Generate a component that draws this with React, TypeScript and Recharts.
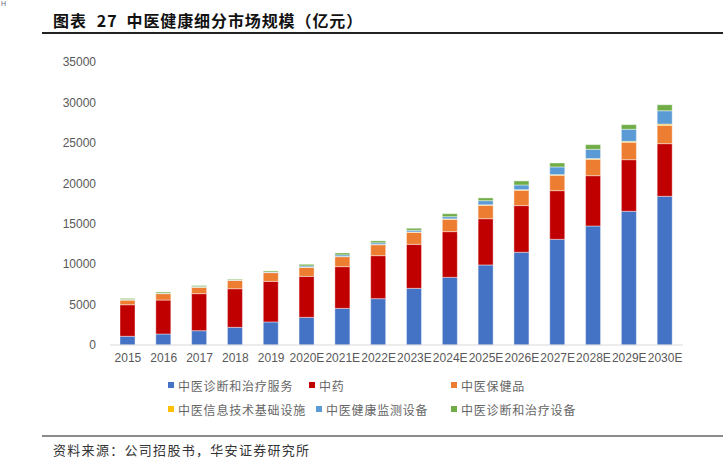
import React from "react";
import { BarChart, Bar, XAxis, YAxis } from "recharts";

const categories = ["2015","2016","2017","2018","2019","2020E","2021E","2022E","2023E","2024E","2025E","2026E","2027E","2028E","2029E","2030E"];
const services = [1080,1360,1770,2190,2850,3420,4530,5730,7010,8370,9900,11470,13070,14720,16540,18390];
const medicine = [3900,4200,4580,4770,5020,5070,5160,5320,5440,5650,5720,5770,6020,6220,6380,6510];
const healthProducts = [580,790,790,1040,1080,1110,1230,1350,1490,1530,1660,1900,1900,2020,2150,2270];
const infoInfra = [20,20,20,20,20,30,30,40,40,50,60,70,80,100,120,150];
const monitoring = [50,50,60,50,60,150,200,200,210,270,510,580,950,1140,1490,1650];
const equipment = [130,140,130,90,130,200,230,240,250,370,340,500,490,580,570,740];
const yTicks = [0,5000,10000,15000,20000,25000,30000,35000];

const seriesNames = ["中医诊断和治疗服务","中药","中医保健品","中医信息技术基础设施","中医健康监测设备","中医诊断和治疗设备"];
const seriesColors = ["#4472C4","#C00000","#ED7D31","#FFC000","#5B9BD5","#70AD47"];
const seriesKeys = ["s0","s1","s2","s3","s4","s5"];
const seriesArrays = [services, medicine, healthProducts, infoInfra, monitoring, equipment];

const data = categories.map((c, i) => {
  const row: any = { name: c };
  seriesKeys.forEach((k, j) => { row[k] = seriesArrays[j][i]; });
  return row;
});

const legendItems = [
  { idx: 0, x: 168, y: 385 },
  { idx: 1, x: 309, y: 385 },
  { idx: 2, x: 451, y: 385 },
  { idx: 3, x: 168, y: 409 },
  { idx: 4, x: 316, y: 409 },
  { idx: 5, x: 451, y: 409 },
];

const cjk = '"Noto Sans CJK SC", "Noto Sans", sans-serif';

export default function App() {
  return (
    <div style={{ position: "absolute", left: 0, top: 0, width: 723, height: 468, background: "#fff", overflow: "hidden" }}>
      <div style={{ position: "absolute", left: 1, top: 0, fontSize: 7, color: "#667", fontFamily: "Liberation Sans, sans-serif" }}>H</div>
      <div style={{ position: "absolute", left: 53, top: 8, fontSize: 16, fontWeight: 700, color: "#111", fontFamily: cjk, lineHeight: "24px", whiteSpace: "nowrap", letterSpacing: 0.9 }}>
        <span>图表</span>
        <span style={{ marginLeft: 10 }}>27</span>
        <span style={{ marginLeft: 9 }}>中医健康细分市场规模（亿元）</span>
      </div>
      <div style={{ position: "absolute", left: 42, top: 32, width: 681, height: 2, background: "#222" }} />
      <div style={{ position: "absolute", left: 0, top: 1 }}>
        <BarChart width={723} height={468} data={data} margin={{ top: 61, right: 40, bottom: 94, left: 50 }} barSize={15}>
          <XAxis dataKey="name" axisLine={{ stroke: "#D9D9D9", strokeWidth: 1 }} tickLine={false} height={30}
            tick={{ fill: "#595959", fontSize: 12, fontFamily: "Liberation Sans, Arial, sans-serif" }} interval={0} tickMargin={2} />
          <YAxis domain={[0, 35000]} ticks={yTicks} width={60} axisLine={false} tickLine={false} tickMargin={8}
            tick={{ fill: "#595959", fontSize: 12, fontFamily: "Liberation Sans, Arial, sans-serif" }} />
          {seriesKeys.map((k, j) => (
            <Bar key={k} dataKey={k} stackId="a" fill={seriesColors[j]} stroke="rgba(255,255,255,0.55)" strokeWidth={0.75} isAnimationActive={false} />
          ))}
        </BarChart>
      </div>
      {legendItems.map((it) => (
        <div key={it.idx} style={{ position: "absolute", left: it.x, top: it.y - 8, height: 16, display: "flex", alignItems: "center", whiteSpace: "nowrap" }}>
          <div style={{ width: 6, height: 6, background: seriesColors[it.idx], marginRight: 4 }} />
          <span style={{ fontSize: 12, color: "#666", fontFamily: cjk, letterSpacing: 0.8 }}>{seriesNames[it.idx]}</span>
        </div>
      ))}
      <div style={{ position: "absolute", left: 42, top: 435, width: 681, height: 2, background: "#8c8c8c" }} />
      <div style={{ position: "absolute", left: 53, top: 441, fontSize: 13, color: "#333", fontFamily: cjk, letterSpacing: 1.3, whiteSpace: "nowrap", lineHeight: "18px" }}>
        资料来源：公司招股书，华安证券研究所
      </div>
    </div>
  );
}
